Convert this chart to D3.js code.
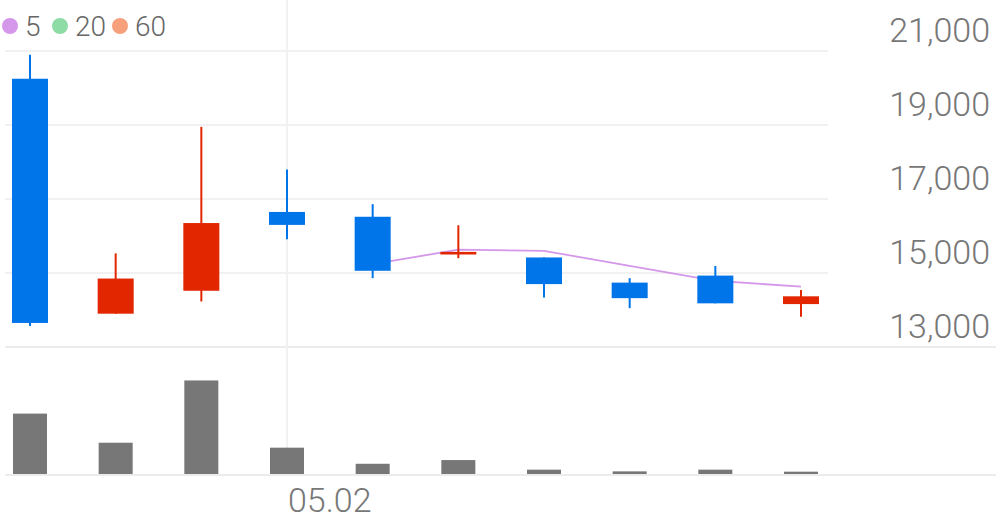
<!DOCTYPE html>
<html><head><meta charset="utf-8">
<script src="https://cdn.jsdelivr.net/npm/d3@7"></script>
<style>html,body{margin:0;padding:0;background:#fff;}svg{display:block;}</style>
</head><body><svg id="c" width="996" height="519"></svg>
<script>
const dates = ["04.27","04.28","04.29","05.02","05.03","05.04","05.06","05.09","05.10","05.11"];
const open  = [20250,13900,14520,16650,16520,15500,15420,14740,14930,14160];
const high  = [20900,15530,18950,17800,16860,16290,15420,14860,15190,14540];
const low   = [13570,13900,14230,15910,14860,15400,14340,14050,14180,13820];
const close = [13650,14850,16350,16300,15060,15570,14700,14320,14180,14370];
const volume= [1950000,1010000,3020000,850000,330000,450000,140000,85000,140000,75000];
const ma5   = [null,null,null,null,15240,15630,15600,15190,14790,14630];
const priceTicks = [13000,15000,17000,19000,21000];
const xTickLabels = ["05.02"];
const legendItems = ["5","20","60"];
const legendColors = ["#d597ea","#8ddca5","#f6a17b"];

const svg = d3.select("#c");
const W = 996;
const x = d3.scaleLinear().domain([0, dates.length-1]).range([30, 801]);
const y = d3.scaleLinear().domain([13000, 21000]).range([347, 51]);
const yv = d3.scaleLinear().domain([0, 4100000]).range([474, 347]);
const UP = "#e22700", DOWN = "#0074e9";

// horizontal grid
svg.append("g").selectAll("line").data(priceTicks.filter(t=>t!==13000)).join("line")
  .attr("x1",5).attr("x2",828).attr("y1",d=>y(d)).attr("y2",d=>y(d))
  .attr("stroke","#f1f1f1").attr("stroke-width",2);
// panel separators
svg.append("line").attr("x1",5).attr("x2",W).attr("y1",y(13000)).attr("y2",y(13000)).attr("stroke","#ececec").attr("stroke-width",2);
svg.append("line").attr("x1",5).attr("x2",W).attr("y1",yv(0)+1).attr("y2",yv(0)+1).attr("stroke","#ececec").attr("stroke-width",2);
// vertical grid at labelled dates
svg.append("g").selectAll("line").data(xTickLabels).join("line")
  .attr("x1",d=>x(dates.indexOf(d))).attr("x2",d=>x(dates.indexOf(d)))
  .attr("y1",0).attr("y2",yv(0)).attr("stroke","#f1f1f1").attr("stroke-width",2);

// y labels
svg.append("g").selectAll("text").data(priceTicks).join("text")
  .attr("x",990).attr("y",d=>y(d)-9).attr("text-anchor","end")
  .attr("font-family","Roboto").attr("font-weight",300).attr("font-size",34).attr("fill","#777")
  .text(d=>d3.format(",")(d));
// x labels
svg.append("g").selectAll("text").data(xTickLabels).join("text")
  .attr("x",d=>x(dates.indexOf(d))+1).attr("y",512)
  .attr("font-family","Roboto").attr("font-weight",300).attr("font-size",34).attr("fill","#777")
  .text(d=>d);

// volume
svg.append("g").selectAll("rect").data(volume).join("rect")
  .attr("x",(d,i)=>x(i)-17).attr("width",34)
  .attr("y",d=>yv(d)).attr("height",d=>yv(0)-yv(d))
  .attr("fill","#777");

// MA5 line (under candles)
const line = d3.line().defined(d=>d!==null).x((d,i)=>x(i)).y(d=>y(d));
svg.append("path").datum(ma5).attr("d",line).attr("fill","none")
  .attr("stroke","#d597ea").attr("stroke-width",1.8);

// candles
const g = svg.append("g");
dates.forEach((d,i)=>{
  const c = close[i] >= open[i] ? UP : DOWN;
  g.append("line").attr("x1",x(i)).attr("x2",x(i)).attr("y1",y(high[i])).attr("y2",y(low[i]))
    .attr("stroke",c).attr("stroke-width",2);
  const top = y(Math.max(open[i],close[i])), bot = y(Math.min(open[i],close[i]));
  g.append("rect").attr("x",x(i)-18).attr("width",36).attr("y",top).attr("height",Math.max(2,bot-top))
    .attr("fill",c);
});

// legend
const lg = svg.append("g");
legendItems.forEach((t,i)=>{
  const cx = [10,60,120][i];
  lg.append("circle").attr("cx",cx).attr("cy",26).attr("r",8).attr("fill",legendColors[i]);
  lg.append("text").attr("x",cx+15).attr("y",36).attr("font-family","Roboto").attr("font-weight",300)
    .attr("font-size",28).attr("fill","#666").text(t);
});
</script></body></html>
